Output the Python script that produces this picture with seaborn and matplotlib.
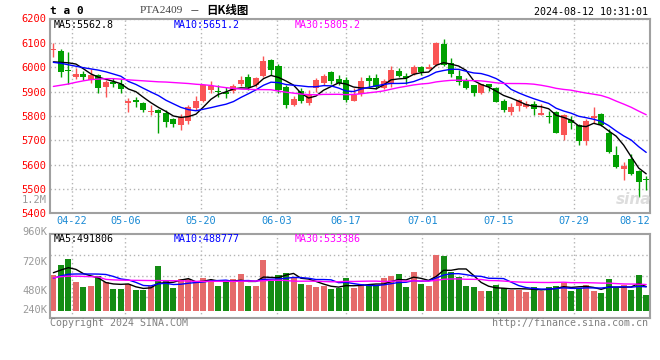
import numpy as np
import pandas as pd
import matplotlib
matplotlib.use("Agg")
import matplotlib.pyplot as plt
import seaborn as sns

# ---------------- data ----------------
opens = [6070, 6066, 5986, 5960, 5974, 5947, 5968, 5917, 5940, 5933,
         5852, 5865, 5854, 5814, 5824, 5813, 5787, 5761, 5780, 5832,
         5862, 5906, 5902, 5899, 5902, 5931, 5960, 5926, 5965, 6029,
         6004, 5920, 5844, 5901, 5854, 5913, 5936, 5981, 5950, 5947,
         5862, 5890, 5954, 5954, 5913, 5933, 5984, 5963, 5972, 6002,
         5993, 6009, 6097, 6019, 5963, 5947, 5926, 5892, 5930, 5913,
         5860, 5817, 5842, 5837, 5849, 5803, 5799, 5817, 5721, 5785,
         5762, 5698, 5792, 5807, 5731, 5639, 5582, 5625, 5574, 5540]
highs = [6100, 6074, 6063, 5995, 5984, 5991, 5972, 5947, 5954, 5952,
         5872, 5879, 5858, 5844, 5829, 5824, 5790, 5806, 5844, 5881,
         5929, 5944, 5926, 5917, 5931, 5963, 5974, 5960, 6045, 6032,
         6015, 5926, 5881, 5913, 5906, 5954, 5974, 5985, 5967, 5960,
         5915, 5960, 5967, 5974, 5950, 6004, 5997, 5977, 6011, 6004,
         6013, 6104, 6114, 6036, 5988, 5954, 5926, 5933, 5933, 5920,
         5869, 5854, 5868, 5861, 5861, 5849, 5820, 5820, 5807, 5799,
         5765, 5786, 5837, 5810, 5745, 5676, 5612, 5642, 5578, 5553]
lows = [6043, 5961, 5933, 5951, 5947, 5936, 5895, 5878, 5917, 5895,
        5817, 5837, 5817, 5803, 5731, 5755, 5755, 5742, 5765, 5824,
        5857, 5892, 5879, 5872, 5892, 5922, 5906, 5917, 5960, 5967,
        5892, 5831, 5840, 5854, 5844, 5899, 5926, 5933, 5926, 5858,
        5860, 5881, 5920, 5909, 5909, 5920, 5961, 5931, 5970, 5967,
        5991, 6004, 6004, 5960, 5926, 5909, 5881, 5888, 5903, 5856,
        5817, 5803, 5821, 5831, 5803, 5803, 5769, 5728, 5701, 5745,
        5680, 5680, 5769, 5758, 5646, 5585, 5537, 5557, 5466, 5496]
closes = [6073, 5981, 5983, 5973, 5958, 5968, 5913, 5940, 5930, 5909,
          5860, 5858, 5824, 5820, 5813, 5776, 5765, 5795, 5837, 5862,
          5925, 5922, 5897, 5888, 5922, 5947, 5917, 5954, 6025, 5988,
          5906, 5844, 5869, 5860, 5888, 5947, 5963, 5944, 5936, 5865,
          5885, 5943, 5943, 5920, 5944, 5990, 5963, 5954, 6002, 5979,
          6002, 6101, 6009, 5972, 5940, 5913, 5892, 5929, 5917, 5858,
          5824, 5837, 5865, 5847, 5827, 5813, 5795, 5731, 5803, 5769,
          5698, 5779, 5799, 5762, 5653, 5591, 5594, 5561, 5530, 5535]
volumes_k = [729, 933, 1056, 586, 484, 504, 715, 586, 443, 443,
             545, 422, 422, 504, 913, 606, 463, 647, 647, 586,
             667, 627, 504, 586, 647, 749, 504, 504, 1035, 606,
             729, 770, 667, 545, 524, 484, 504, 443, 456, 674,
             470, 545, 518, 518, 674, 715, 756, 484, 797, 552,
             511, 1144, 1124, 797, 688, 511, 484, 409, 409, 524,
             470, 422, 422, 388, 484, 409, 484, 511, 565, 409,
             470, 524, 409, 368, 647, 456, 524, 429, 729, 320]

# moving-average values read off the chart where the window is not yet full
ma5_head = [6022, 6020, 6018, 6013]
ma10_head = [6020, 6016, 6010, 6004, 5998, 5993, 5988, 5981, 5972]
ma30_head = [5921, 5926, 5931, 5938, 5944, 5949, 5951, 5953, 5953, 5951,
             5948, 5946, 5944, 5942, 5940, 5939, 5937, 5935, 5933, 5930,
             5928, 5925, 5920, 5916, 5913, 5910, 5909, 5908, 5908]
vma5_head = [776, 831, 879, 845]
vma10_head = [665, 710, 745, 750, 750, 750, 748, 740, 700]
vma30_head = [670, 695, 705, 705, 700, 695, 688, 640, 630, 625,
              622, 620, 618, 616, 615, 614, 613, 612, 605, 600,
              600, 600, 600, 600, 600, 602, 604, 606, 612]

date_labels = ["04-22", "05-06", "05-20", "06-03", "06-17",
               "07-01", "07-15", "07-29", "08-12"]
date_pos = [2.48, 9.6, 19.68, 29.8, 38.97, 49.15, 59.28, 69.4, 79.44]
price_ticks = [5400, 5500, 5600, 5700, 5800, 5900, 6000, 6100, 6200]
vol_labels = ["960K", "720K", "480K", "240K"]
vol_label_y_px = [231.7, 261.7, 290.7, 310.3]

ma_legend = ["MA5:5562.8", "MA10:5651.2", "MA30:5805.2"]
vma_legend = ["MA5:491806", "MA10:488777", "MA30:533386"]

# ---------------- style ----------------
RED = "#fa5555"
GREEN = "#00a000"
BLUE_DATE = "#1a8ad4"
GRIDC = "#b4b4b4"
SPINEC = "#a0a0a0"
MA_COLORS = ["#000000", "#0000ff", "#ff00ff"]

sns.set_theme(style="white")
plt.rcParams["font.family"] = ["DejaVu Sans Mono", "Noto Sans CJK SC"]

W, H = 660, 360
fig = plt.figure(figsize=(W / 100, H / 100), dpi=100)
fig.patch.set_facecolor("white")


def fx(px):
    return px / W


def fy(py):
    return 1 - py / H


ax = fig.add_axes([fx(50), fy(213.3), (649.5 - 50) / W, (213.3 - 18.5) / H])
axv = fig.add_axes([fx(50), fy(317.5), (649.5 - 50) / W, (317.5 - 234.3) / H])

n = len(closes)
df = pd.DataFrame({"i": np.arange(n), "o": opens, "h": highs, "l": lows,
                   "c": closes, "v": volumes_k})
df["dir"] = np.where(df["c"] >= df["o"], "up", "down")
cols = np.where(df["dir"] == "up", RED, GREEN)


def moving(series, win, head):
    m = series.rolling(win).mean()
    m.iloc[:len(head)] = head
    return m


ma_lines = [moving(df["c"], 5, ma5_head), moving(df["c"], 10, ma10_head),
            moving(df["c"], 30, ma30_head)]
vma_lines = [moving(df["v"], 5, vma5_head), moving(df["v"], 10, vma10_head),
             moving(df["v"], 30, vma30_head)]

# ---------------- price panel ----------------
ax.vlines(df["i"], df["l"], df["h"], colors=cols, linewidth=1, zorder=2)
body_low = np.minimum(df["o"], df["c"])
body_h = np.maximum(np.abs(df["c"] - df["o"]), 4)
ax.bar(df["i"], body_h, bottom=body_low, width=0.8, color=cols,
       linewidth=0, zorder=2)
for m, c in zip(ma_lines, MA_COLORS):
    sns.lineplot(x=df["i"], y=m, color=c, linewidth=1.0, ax=ax, zorder=3)

ax.set_xlim(-0.45, 79.43)
ax.set_ylim(5400, 6200)
ax.set_yticks(price_ticks)
ax.set_yticklabels([str(t) for t in price_ticks])
ax.set_xticks(date_pos)
ax.set_xticklabels(date_labels)
ax.set_xlabel("")
ax.set_ylabel("")
ax.tick_params(axis="y", length=0, pad=2.5, labelsize=7.5, labelcolor="red")
ax.tick_params(axis="x", length=0, pad=2.0, labelsize=7.4, labelcolor=BLUE_DATE)
xt = ax.get_xticklabels()
xt[-1].set_horizontalalignment("right")
ax.grid(True, linestyle=(0, (1, 2)), color=GRIDC, linewidth=1)

# ---------------- volume panel ----------------
sns.barplot(data=df, x="i", y="v", hue="dir", palette={"up": RED, "down": GREEN},
            native_scale=True, width=0.8, dodge=False, legend=False,
            linewidth=0, edgecolor="none", ax=axv, zorder=2)
for m, c in zip(vma_lines, MA_COLORS):
    sns.lineplot(x=df["i"], y=m, color=c, linewidth=1.0, ax=axv, zorder=3)

vlo, vhi = -139, 1561
axv.set_xlim(-0.45, 79.43)
axv.set_ylim(vlo, vhi)
axv.set_xticks(date_pos)
axv.set_xticklabels([])
axv.set_yticks([vlo + f * (vhi - vlo) for f in (0.25, 0.5, 0.75)])
axv.set_yticklabels([])
axv.set_xlabel("")
axv.set_ylabel("")
axv.tick_params(length=0)
axv.grid(True, linestyle=(0, (1, 2)), color=GRIDC, linewidth=1)

for a in (ax, axv):
    a.set_facecolor("white")
    a.set_axisbelow(True)
    for s in a.spines.values():
        s.set_visible(True)
        s.set_color(SPINEC)
        s.set_linewidth(1.5)

# ---------------- texts ----------------
FS = 7.2
for txt, xpx, c in zip(ma_legend, [54, 174, 295], MA_COLORS):
    fig.text(fx(xpx), fy(24.5), txt, color=c, fontsize=FS, va="center", ha="left")
for txt, xpx, c in zip(vma_legend, [54, 174, 295], MA_COLORS):
    fig.text(fx(xpx), fy(238.5), txt, color=c, fontsize=FS, va="center", ha="left")
for txt, ypx in zip(vol_labels, vol_label_y_px):
    fig.text(fx(47), fy(ypx), txt, color="#999999", fontsize=7.5, va="center", ha="right")
fig.text(fx(47), fy(200), "1.2M", color="#999999", fontsize=7.5, va="center", ha="right")

fig.text(fx(50), fy(11), "t a 0", color="black", fontsize=8, fontweight="bold",
         va="center", ha="left")
fig.text(fx(140), fy(10.5), "PTA2409", color="#444444", fontsize=8.2,
         family=["Liberation Serif", "DejaVu Serif"], va="center", ha="left")
fig.text(fx(190), fy(10.5), "－", color="#333333", fontsize=7,
         family=["Noto Sans CJK SC", "DejaVu Sans"], va="center", ha="left")
fig.text(fx(206), fy(10.5), "日K线图", color="black", fontsize=8.3, fontweight="bold",
         family=["Noto Sans CJK SC", "DejaVu Sans"], va="center", ha="left")
fig.text(fx(648), fy(12), "2024-08-12 10:31:01", color="black", fontsize=FS,
         va="center", ha="right")
fig.text(fx(50), fy(323.5), "Copyright 2024 SINA.COM", color="#808080", fontsize=FS,
         va="center", ha="left")
fig.text(fx(648), fy(323.5), "http://finance.sina.com.cn", color="#808080", fontsize=FS,
         va="center", ha="right")
fig.text(fx(634), fy(199), "sina", color="#dddddd", fontsize=11, fontweight="bold",
         style="italic", family=["DejaVu Sans"], va="center", ha="center")

fig.savefig("out.png", dpi=100, facecolor="white")
